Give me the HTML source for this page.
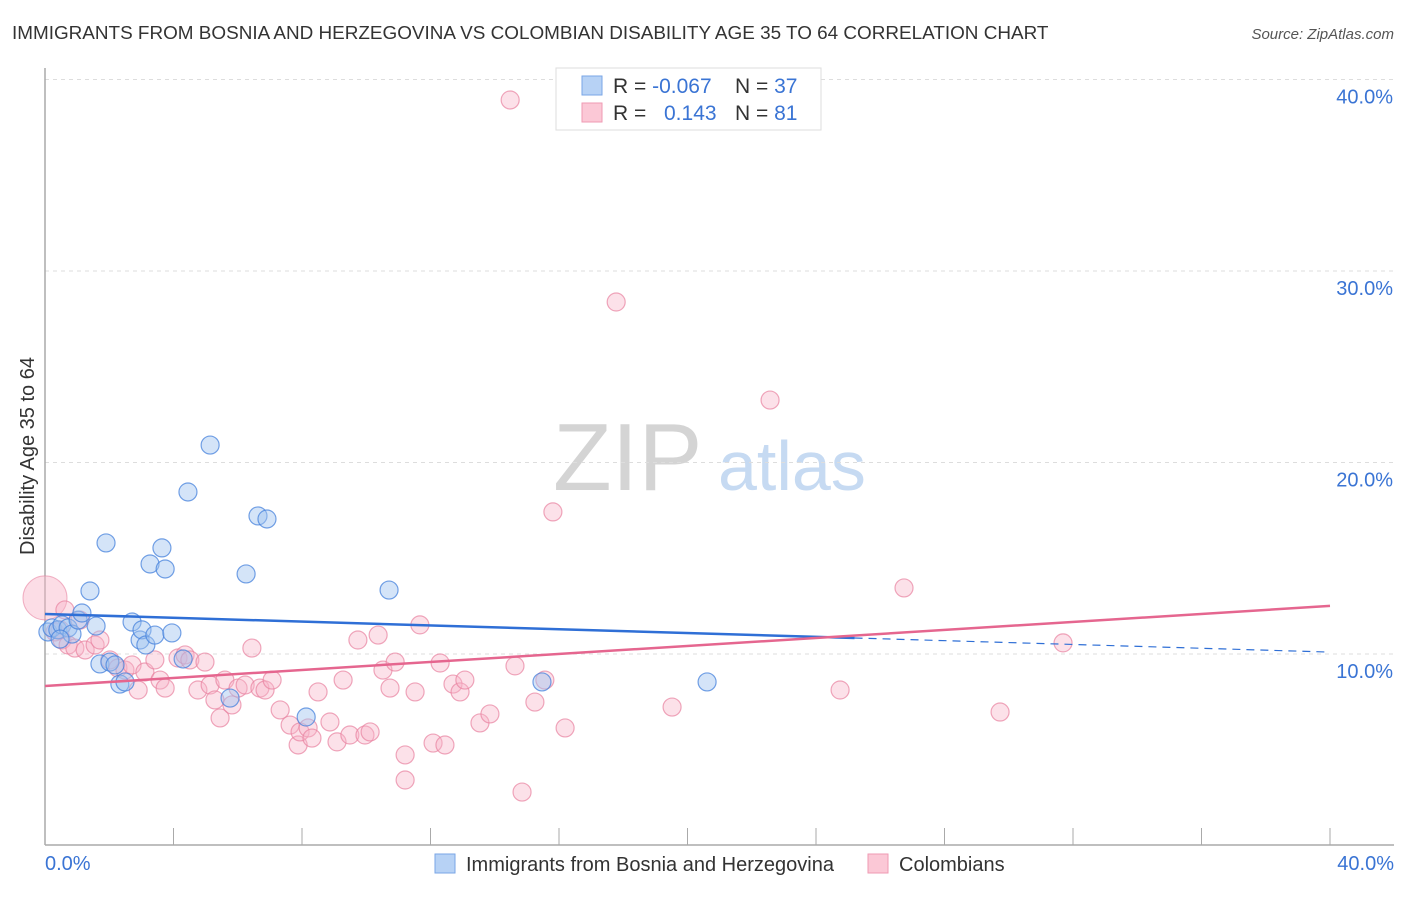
<!DOCTYPE html>
<html><head><meta charset="utf-8"><style>
body{margin:0;background:#fff;font-family:"Liberation Sans",sans-serif}
svg text{font-family:"Liberation Sans",sans-serif}
</style></head><body>
<svg id="chart" width="1406" height="892">
<text x="12" y="39" font-size="18.9" fill="#333">IMMIGRANTS FROM BOSNIA AND HERZEGOVINA VS COLOMBIAN DISABILITY AGE 35 TO 64 CORRELATION CHART</text>
<text x="1394" y="39" font-size="15" fill="#555" font-style="italic" text-anchor="end">Source: ZipAtlas.com</text>
<g>
<text x="553" y="490" font-family="Liberation Serif" font-size="96" fill="#d4d4d4">ZIP</text>
<text x="718" y="490" font-size="70" fill="#c6daf2">atlas</text>
</g>
<g id="grid"></g><g id="axes"></g><g id="pts"></g><g id="trend"></g>
<text transform="translate(34,456) rotate(-90)" font-size="20" fill="#333" text-anchor="middle">Disability Age 35 to 64</text>
<g>
<rect x="556" y="68" width="265" height="62" fill="#fff" stroke="#ddd"/>
<rect x="582" y="76" width="20" height="19" fill="#b7d2f5" stroke="#7aa6e6"/>
<rect x="582" y="103" width="20" height="19" fill="#fbc8d6" stroke="#ef9ab3"/>
<text x="613" y="93" font-size="21" fill="#333">R = <tspan fill="#3a74d4">-0.067</tspan></text>
<text x="735" y="93" font-size="21" fill="#333">N = <tspan fill="#3a74d4">37</tspan></text>
<text x="613" y="120" font-size="21" fill="#333">R = <tspan fill="#3a74d4" x="664">0.143</tspan></text>
<text x="735" y="120" font-size="21" fill="#333">N = <tspan fill="#3a74d4">81</tspan></text>
</g>
<g>
<rect x="435" y="854" width="20" height="19" fill="#b7d2f5" stroke="#7aa6e6"/>
<text x="466" y="871" font-size="20" fill="#333">Immigrants from Bosnia and Herzegovina</text>
<rect x="868" y="854" width="20" height="19" fill="#fbc8d6" stroke="#ef9ab3"/>
<text x="899" y="871" font-size="20" fill="#333">Colombians</text>
</g>
</svg>
<script>
const yTicks=[10,20,30,40];
const xTickLabels=["0.0%","40.0%"];
const blueX=[0.09,0.22,0.40,0.53,0.72,0.84,1.03,1.15,1.40,1.59,1.90,1.71,2.02,2.18,2.33,2.49,2.71,2.96,3.02,3.14,3.27,3.42,3.64,3.74,3.95,4.30,4.45,5.14,5.76,6.26,6.63,6.91,8.13,10.71,15.47,20.61,0.47];
const blueY=[11.15,11.36,11.26,11.52,11.36,11.04,11.77,12.14,13.29,11.46,15.80,9.48,9.58,9.43,8.43,8.54,11.67,10.73,11.26,10.47,14.70,10.99,15.54,14.44,11.10,9.74,18.46,20.91,7.70,14.18,17.21,17.05,6.71,13.34,8.54,8.54,10.78];
const pinkX=[0.31,0.53,0.72,0.93,1.25,1.56,1.71,0.62,2.02,2.27,2.49,2.71,2.90,3.11,3.42,3.58,3.74,4.14,4.36,4.51,4.76,4.98,5.14,5.29,5.45,5.60,5.82,6.01,6.23,6.44,6.69,6.85,7.07,7.32,7.63,7.88,7.94,8.19,8.31,8.50,8.87,9.09,9.28,9.49,9.74,9.96,10.12,10.37,10.52,10.74,10.90,11.21,11.21,11.52,11.67,12.08,12.30,12.45,12.70,12.92,13.07,13.54,13.85,14.48,14.63,14.85,15.25,15.56,15.81,16.19,17.78,19.52,22.57,24.75,26.74,29.73,31.69,0.47,1.09];
const pinkY=[11.15,10.73,10.47,10.31,10.21,10.47,10.73,12.30,9.69,9.27,9.16,9.43,8.12,9.06,9.69,8.64,8.22,9.79,9.95,9.69,8.12,9.58,8.38,7.60,6.66,8.64,7.34,8.22,8.38,10.31,8.22,8.12,8.64,7.08,6.29,5.25,5.93,6.14,5.61,8.02,6.45,5.41,8.64,5.77,10.73,5.77,5.93,10.99,9.16,8.22,9.58,4.73,3.42,8.02,11.52,5.35,9.53,5.25,8.43,8.02,8.64,6.40,6.87,38.93,9.38,2.79,7.49,8.64,17.42,6.14,28.38,7.23,23.26,8.12,13.45,6.97,10.58,11.26,11.77];
const bigPink=[0,12.93];
const blueTrend=[12.09,10.10];
const pinkTrend=[8.33,12.51];
const NS="http://www.w3.org/2000/svg";
const sx=v=>45+v/40*1285, sy=v=>845.5-v*19.15;
function mk(tag,attrs,parent){const e=document.createElementNS(NS,tag);for(const k in attrs)e.setAttribute(k,attrs[k]);document.getElementById(parent).appendChild(e);return e;}
yTicks.forEach(t=>{
 const l=mk('line',{x1:45,x2:1394,y1:sy(t),y2:sy(t),stroke:'#ddd','stroke-dasharray':'4,4'},'grid');
 
 
 const tx=mk('text',{x:1393,y:sy(t)+24,'font-size':20,fill:'#3a74d4','text-anchor':'end'},'grid');
 tx.textContent=t.toFixed(1)+'%';
 
 
});
const ya=mk('line',{x1:45,x2:45,y1:68,y2:845,stroke:'#aaa','stroke-width':1.5},'axes');


const xa=mk('line',{x1:45,x2:1394,y1:845,y2:845,stroke:'#aaa','stroke-width':1.5},'axes');


for(let i=0;i<=10;i++){const t=mk('line',{x1:sx(i*4),x2:sx(i*4),y1:828,y2:845,stroke:'#aaa'},'axes');
 
 }
[[0,'start',45],[40,'end',1394]].forEach((d,i)=>{const t=mk('text',{x:d[2],y:870,'font-size':20,fill:'#3a74d4','text-anchor':d[1]},'axes');t.textContent=xTickLabels[i];
 
 });
const bp=mk('circle',{cx:sx(bigPink[0]),cy:sy(bigPink[1]),r:22,fill:'rgba(248,180,200,0.45)',stroke:'rgba(232,130,160,0.6)'},'pts');


pinkX.forEach((x,i)=>{const c=mk('circle',{cx:sx(x),cy:sy(pinkY[i]),r:9,fill:'rgba(248,180,200,0.4)',stroke:'rgba(232,130,160,0.7)','stroke-width':1.2},'pts');
 
 });
blueX.forEach((x,i)=>{const c=mk('circle',{cx:sx(x),cy:sy(blueY[i]),r:9,fill:'rgba(160,195,240,0.45)',stroke:'rgba(70,130,220,0.75)','stroke-width':1.2},'pts');
 
 });
const bm=blueTrend[0]+(blueTrend[1]-blueTrend[0])*0.63;
const b1=mk('line',{x1:sx(0),y1:sy(blueTrend[0]),x2:sx(25.2),y2:sy(bm),stroke:'#2f6fd6','stroke-width':2.5},'trend');


const b2=mk('line',{x1:sx(25.2),y1:sy(bm),x2:sx(40),y2:sy(blueTrend[1]),stroke:'#2f6fd6','stroke-width':1.2,'stroke-dasharray':'8,6'},'trend');


const p1=mk('line',{x1:sx(0),y1:sy(pinkTrend[0]),x2:sx(40),y2:sy(pinkTrend[1]),stroke:'#e5668f','stroke-width':2.5},'trend');


</script>
</body></html>
